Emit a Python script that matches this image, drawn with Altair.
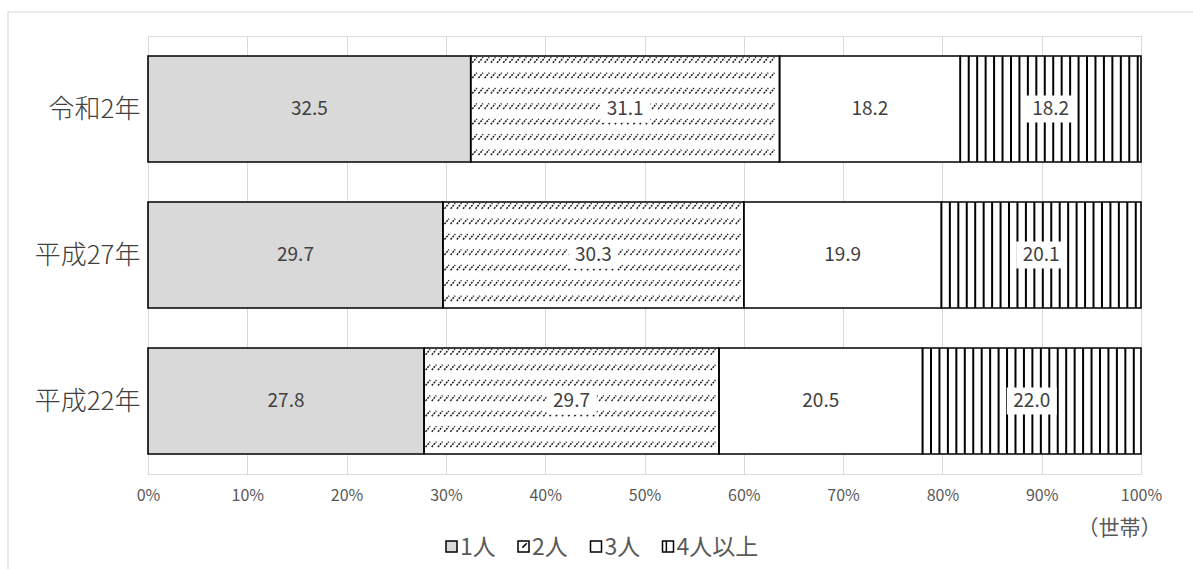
import altair as alt
import pandas as pd

# Household composition by census year (percent of households)
years = ["令和2年", "平成27年", "平成22年"]
groups = ["1人", "2人", "3人", "4人以上"]
one_person = [32.5, 29.7, 27.8]
two_person = [31.1, 30.3, 29.7]
three_person = [18.2, 19.9, 20.5]
four_plus = [18.2, 20.1, 22.0]

FONT = "Noto Sans CJK JP"
NUM_FONT = "Liberation Sans Narrow, Noto Sans CJK JP"
PLOT_W, PLOT_H = 993, 438
PX_X = PLOT_W / 100.0          # pixels per percent
PX_Y = PLOT_H / 3.0            # pixels per row unit
HALF_BAR = 53 / PX_Y           # half bar thickness in row units

series = [one_person, two_person, three_person, four_plus]
rows = []
for i, year in enumerate(years):
    center = 2.5 - i           # first year at the top
    start = 0.0
    for g, vals in zip(groups, series):
        v = vals[i]
        rows.append({
            "year": year, "group": g, "value": v,
            "start": start, "end": start + v, "mid": start + v / 2,
            "center": center,
            "top": center + HALF_BAR, "bottom": center - HALF_BAR,
            "label": f"{v:.1f}",
        })
        start += v
df = pd.DataFrame(rows)

# Vertical stripe texture for the 4+ segments
stripe_rows = []
pitch = 8.45 / PX_X
for r in df[df.group == "4人以上"].itertuples():
    x = r.start + pitch
    while x < r.end - 1.0 / PX_X:
        stripe_rows.append({"x": x, "top": r.top, "bottom": r.bottom})
        x += pitch
stripes = pd.DataFrame(stripe_rows)

# Dashed diagonal texture for the 2-person segments
hatch_rows = []
dx_pitch = 6.2 / PX_X
dx_len = 4.6 / PX_X
dy_half = 2.7 / PX_Y
for r in df[df.group == "2人"].itertuples():
    for k in range(7):
        yc = r.top - (4.0 + k * 15.4) / PX_Y
        x = r.start + 1.5 / PX_X
        while x + dx_len < r.end - 1.0 / PX_X:
            hatch_rows.append({"x": x, "x2": x + dx_len,
                               "y": yc - dy_half, "y2": yc + dy_half})
            x += dx_pitch
hatch = pd.DataFrame(hatch_rows)

boxed = df[df.group.isin(["2人", "4人以上"])].copy()
boxed["bx"] = boxed["mid"] - 25 / PX_X
boxed["bx2"] = boxed["mid"] + 25 / PX_X
boxed["by"] = boxed["center"] - 13.5 / PX_Y
boxed["by2"] = boxed["center"] + 13.5 / PX_Y

label_expr = ("datum.value == 2.5 ? '令和2年' : datum.value == 1.5 ? "
              "'平成27年' : datum.value == 0.5 ? '平成22年' : ''")

x_scale = alt.Scale(domain=[0, 100], nice=False, zero=False)
y_scale = alt.Scale(domain=[0, 3], nice=False, zero=False)

x_axis = alt.Axis(
    values=list(range(0, 101, 10)), labelExpr="datum.value + '%'",
    grid=True, gridColor="#d9d9d9", gridWidth=1, domain=False, ticks=False,
    labelFont=NUM_FONT, labelFontSize=16, labelColor="#595959", labelPadding=13,
    labelFlush=False,
    title="（世帯）", titleFont=FONT, titleFontSize=21, titleFontWeight="normal",
    titleColor="#595959", titleX=971, titleY=54, titleAlign="center",
    titleBaseline="middle",
)
y_axis = alt.Axis(
    values=[0.5, 1.5, 2.5], labelExpr=label_expr, grid=False, domain=False,
    ticks=False, labelFont=FONT, labelFontSize=26, labelFontWeight=300,
    labelColor="#404040", labelPadding=8, title=None,
)

fill_range = ["#d9d9d9", "#ffffff", "#ffffff", "#ffffff"]
fill_scale = alt.Scale(domain=groups, range=fill_range)

base = alt.Chart(df)
one = pd.DataFrame({"a": [0]})

frame = alt.Chart(one).mark_rect(
    fill=None, stroke="#d9d9d9", strokeWidth=1.2
).encode(
    x=alt.value(-140), x2=alt.value(1070), y=alt.value(-24), y2=alt.value(560)
)

fills = base.mark_rect().encode(
    x=alt.X("start:Q", scale=x_scale, axis=x_axis),
    x2="end:Q",
    y=alt.Y("bottom:Q", scale=y_scale, axis=y_axis),
    y2="top:Q",
    fill=alt.Fill("group:N", scale=fill_scale, sort=groups, legend=None),
)

stripe_layer = alt.Chart(stripes).mark_rule(
    color="#000000", strokeWidth=2
).encode(x="x:Q", y="bottom:Q", y2="top:Q")

hatch_layer = alt.Chart(hatch).mark_rule(
    color="#202020", strokeWidth=1.5, strokeDash=[2, 1]
).encode(x="x:Q", x2="x2:Q", y="y:Q", y2="y2:Q")

outlines = base.mark_rect(
    fill=None, stroke="#000000", strokeWidth=1.6
).encode(x="start:Q", x2="end:Q", y="bottom:Q", y2="top:Q")

boxes = alt.Chart(boxed).mark_rect(fill="#ffffff").encode(
    x="bx:Q", x2="bx2:Q", y="by:Q", y2="by2:Q"
)

labels = base.mark_text(
    font=NUM_FONT, fontSize=19, color="#404040", baseline="middle", align="center"
).encode(x="mid:Q", y="center:Q", text="label:N")

# Legend row under the axis: swatch + label for each group
swatch_shapes = [
    "M-1,-1H1V1H-1Z",
    "M-1,-1H1V1H-1Z M-0.2,0.2L0.6,-0.6",
    "M-1,-1H1V1H-1Z",
    "M-1,-1H1V1H-1Z M-0.3,-1V1",
]
swatch_centers = [303.5, 375.5, 448.0, 520.0]
legend_y = 510.5
legend_layers = []
for g, shape, fill, cx in zip(groups, swatch_shapes, fill_range, swatch_centers):
    legend_layers.append(
        alt.Chart(one).mark_point(
            shape=shape, size=121, filled=True, fill=fill,
            stroke="#000000", strokeWidth=1.5, opacity=1,
        ).encode(x=alt.value(cx), y=alt.value(legend_y))
    )
    legend_layers.append(
        alt.Chart(one).mark_text(
            font=FONT, fontSize=23, color="#595959", align="left",
            baseline="middle",
        ).encode(x=alt.value(cx + 8.5), y=alt.value(legend_y + 1),
                 text=alt.value(g))
    )

chart = alt.layer(
    frame, fills, stripe_layer, hatch_layer, outlines, boxes, labels,
    *legend_layers
).properties(
    width=PLOT_W, height=PLOT_H,
    autosize=alt.AutoSizeParams(type="none"),
    padding={"left": 148, "top": 36, "right": 52, "bottom": 95},
).configure_view(stroke=None).configure(background="#ffffff")

chart.save("out.html", embed_options={"renderer": "svg", "actions": False})
